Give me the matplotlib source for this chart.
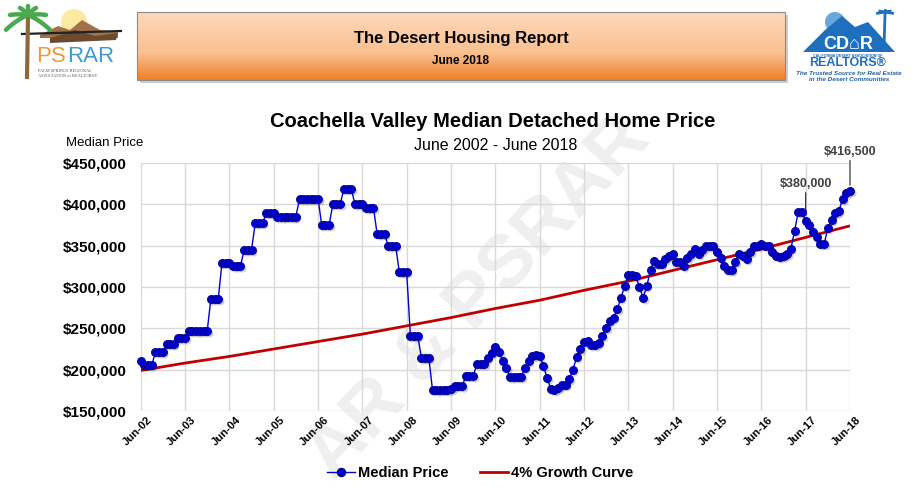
import numpy as np
import matplotlib
matplotlib.use("Agg")
import matplotlib.pyplot as plt
import matplotlib.transforms as mtransforms
from matplotlib.patches import Polygon, Circle, Rectangle
from matplotlib.lines import Line2D

plt.rcParams['font.family'] = ['Liberation Sans', 'DejaVu Sans']

# ---------------- data ----------------
tick_labels = ["Jun-02", "Jun-03", "Jun-04", "Jun-05", "Jun-06", "Jun-07", "Jun-08",
               "Jun-09", "Jun-10", "Jun-11", "Jun-12", "Jun-13", "Jun-14", "Jun-15",
               "Jun-16", "Jun-17", "Jun-18"]

# monthly median price (thousands of $), Jun-2002 .. Jun-2018
median_price_k = [
    210, 206, 206, 206, 221, 221, 221, 231, 231, 231, 238, 238,
    238, 246.5, 246.5, 246.5, 246.5, 246.5, 246.5, 286, 286, 286, 329, 329,
    329, 325, 325, 325, 345, 345, 345, 377, 377, 377, 390, 390,
    390, 385, 385, 385, 385, 385, 385, 407, 407, 407, 407, 407,
    407, 375, 375, 375, 400, 400, 400, 419, 419, 419, 400, 400,
    400, 396, 396, 396, 364, 364, 364, 350, 350, 350, 318, 318,
    318, 241, 241, 241, 214, 214, 214, 175, 175, 175, 176, 176,
    177, 180, 180, 180, 192, 192, 192, 207, 207, 207, 214, 220,
    227, 221, 211, 202, 191, 191, 191, 191, 202, 210, 217, 218,
    217, 205, 190, 177, 176, 178, 181, 182, 189, 200, 215, 225,
    234, 235, 230, 230, 232, 241, 251, 259, 263, 273, 287, 301,
    315, 315, 313, 300, 287, 301, 321, 332, 328, 328, 334, 337,
    340, 330, 330, 325, 335, 340, 346, 340, 345, 350, 350, 350,
    342, 335, 326, 320, 320, 330, 340, 337, 334, 342, 350, 350,
    352, 350, 349, 342, 338, 336, 338, 340, 346, 368, 391, 391,
    380, 375, 367, 360, 352, 352, 371, 381, 389, 392, 407, 414,
    416.5,
]

# 4% growth curve read at each June (thousands of $)
growth_k = [199, 208, 216, 225, 234, 243, 253, 263, 274, 284, 296, 307,
            320, 333, 346, 360, 374]

annot_labels = ["$380,000", "$416,500"]
annot_month_index = [180, 192]
annot_values = [380000, 416500]

yticks = [150000, 200000, 250000, 300000, 350000, 400000, 450000]

# ---------------- figure ----------------
W, H = 923, 491
fig = plt.figure(figsize=(W / 100, H / 100), dpi=100)
fig.patch.set_facecolor("white")

bg = fig.add_axes([0, 0, 1, 1], zorder=0)
bg.set_xlim(0, W)
bg.set_ylim(H, 0)
bg.axis("off")

# header box with orange gradient
x0, x1, y0, y1 = 137, 785, 12, 80
bg.add_patch(Rectangle((x0 + 3, y0 + 3), x1 - x0, y1 - y0, facecolor="#9a9a9a",
                       edgecolor="none", alpha=0.5, zorder=1))
top = np.array([0xfd, 0xd9, 0xbd]) / 255
mid = np.array([0xfa, 0xc0, 0x90]) / 255
bot = np.array([0xee, 0x7f, 0x2a]) / 255
cols = np.zeros((256, 1, 3))
for k in range(256):
    t = k / 255
    if t < 0.6:
        c = top + (mid - top) * (t / 0.6)
    else:
        c = mid + (bot - mid) * ((t - 0.6) / 0.4)
    cols[k, 0, :] = c
bg.imshow(cols, extent=(x0, x1, y1, y0), aspect="auto", zorder=2, interpolation="bilinear")
bg.add_patch(Rectangle((x0, y0), x1 - x0, y1 - y0, facecolor="none",
                       edgecolor="#8a8a8a", lw=0.8, zorder=3))
bg.text(461, 38, "The Desert Housing Report", ha="center", va="center",
        fontsize=12, fontweight="bold", color="black", zorder=4)
bg.text(461, 61, "June 2018", ha="center", va="center",
        fontsize=8.5, fontweight="bold", color="black", zorder=4)

# left logo (PSRAR)
bg.add_patch(Circle((74, 22), 13, facecolor="#fde9a0", edgecolor="none", zorder=1))
bg.add_patch(Polygon([[40, 35], [58, 26], [70, 30], [82, 20], [100, 30], [118, 32], [118, 38], [40, 38]],
                     closed=True, facecolor="#a0724a", edgecolor="none", zorder=2))
bg.add_patch(Polygon([[50, 38], [75, 30], [95, 36], [118, 33], [116, 40], [50, 43]],
                     closed=True, facecolor="#6b4a2e", edgecolor="none", zorder=2))
bg.plot([22, 121], [34, 31], color="#222222", lw=1.6, zorder=3)
bg.plot([28, 27], [16, 77], color="#8a6a3a", lw=3, zorder=3)
for dx, dy in [(-22, 10), (-18, -2), (-8, -9), (8, -9), (18, -2), (22, 10), (0, -11)]:
    xs = np.linspace(0, 1, 12)
    bg.plot(28 + dx * xs, 15 + dy * xs + 6 * xs * (xs - 0.2) * (1 if dy > 0 else 0.4),
            color="#4aa84f", lw=3.2, solid_capstyle="round", zorder=4)
bg.text(66, 56, "PS", ha="right", va="center", fontsize=16, color="#e89b3c", zorder=4)
bg.text(67, 56, "RAR", ha="left", va="center", fontsize=16, color="#3d9ad1", zorder=4)
bg.text(38, 71, "PALM SPRINGS REGIONAL", ha="left", va="center", fontsize=3.2, color="#555555",
        zorder=4, family=["Liberation Serif", "DejaVu Serif"])
bg.text(38, 75.5, "ASSOCIATION of REALTORS\u00ae", ha="left", va="center", fontsize=3.2,
        color="#555555", zorder=4, family=["Liberation Serif", "DejaVu Serif"])

# right logo (CDAR)
bg.add_patch(Circle((835, 22), 10, facecolor="#6aa7dc", edgecolor="none", zorder=1))
bg.add_patch(Polygon([[803, 52], [825, 30], [842, 16], [855, 27], [868, 22], [895, 52]],
                     closed=True, facecolor="#1f6fbf", edgecolor="none", zorder=2))
bg.plot([885, 884], [14, 48], color="#1f6fbf", lw=2, zorder=3)
for ang in [160, 130, 90, 50, 20]:
    a = np.deg2rad(ang)
    bg.plot([885, 885 + 8 * np.cos(a)], [12, 12 - 5 * np.sin(a) + 3], color="#1f6fbf", lw=2, zorder=3)
bg.text(848, 44, "CD\u2302R", ha="center", va="center", fontsize=13, fontweight="bold",
        color="white", zorder=4)
bg.text(848, 56, "CALIFORNIA DESERT ASSOCIATION OF", ha="center", va="center", fontsize=2.6,
        fontweight="bold", color="#1f5fa8", zorder=4)
bg.text(848, 63, "REALTORS\u00ae", ha="center", va="center", fontsize=9, fontweight="bold",
        color="#1f6fbf", zorder=4)
bg.text(849, 73, "The Trusted Source for Real Estate", ha="center", va="center", fontsize=4.6,
        fontweight="bold", style="italic", color="#1f5fa8", zorder=4)
bg.text(849, 79.5, "in the Desert Communities", ha="center", va="center", fontsize=4.6,
        fontweight="bold", style="italic", color="#1f5fa8", zorder=4)

# watermark (kept fully inside the picture)
bg.text(478, 298, "AR & PSRAR", ha="center", va="center", rotation=47, fontsize=54,
        fontweight="bold", color="#efefef", zorder=1)

# titles
bg.text(493, 121, "Coachella Valley Median Detached Home Price", ha="center", va="center",
        fontsize=14.5, fontweight="bold", color="black", zorder=4)
bg.text(496, 146, "June 2002 - June 2018", ha="center", va="center",
        fontsize=11.5, color="black", zorder=4)
bg.text(105, 143, "Median Price", ha="center", va="center", fontsize=9.5, color="black", zorder=4)

# ---------------- main plot ----------------
L, R, T, B = 140.7, 850.0, 163.0, 411.0
ax = fig.add_axes([L / W, (H - B) / H, (R - L) / W, (B - T) / H], zorder=2)
ax.patch.set_alpha(0)

x = np.arange(len(median_price_k))
y = np.array(median_price_k) * 1000.0
gx = np.arange(len(growth_k)) * 12
gy = np.array(growth_k) * 1000.0

ax.set_xlim(0, 192)
ax.set_ylim(150000, 450000)
ax.set_xticks(np.arange(len(tick_labels)) * 12)
ax.set_xticklabels(tick_labels)
ax.set_yticks(yticks)
ax.set_yticklabels(["${:,.0f}".format(v) for v in yticks])
ax.grid(True, color="#d9d9d9", lw=1.0)
ax.set_axisbelow(True)
for s in ax.spines.values():
    s.set_visible(False)
ax.tick_params(axis="both", length=0)
ax.tick_params(axis="y", pad=10, labelsize=11)
ax.tick_params(axis="x", pad=3, labelsize=8)
for lab in ax.get_yticklabels():
    lab.set_fontweight("bold")
offset = mtransforms.ScaledTranslation(6 / 100, 0, fig.dpi_scale_trans)
for lab in ax.get_xticklabels():
    lab.set_fontweight("bold")
    lab.set_rotation(45)
    lab.set_ha("right")
    lab.set_rotation_mode("anchor")
    lab.set_transform(lab.get_transform() + offset)

ax.plot(gx, gy, color="#c00000", lw=2.0, zorder=3, solid_capstyle="butt")

shadow = ax.transData + mtransforms.ScaledTranslation(1.5 / 100, -2 / 100, fig.dpi_scale_trans)
ax.plot(x, y, color="#000000", lw=0, marker="o", ms=5.8, mec="none", mfc="#000000",
        alpha=0.18, transform=shadow, zorder=3.5, clip_on=False)
ax.plot(x, y, color="#0000cc", lw=1.0, marker="o", ms=5.8, mfc="#0000d0", mec="#00008b",
        mew=0.6, zorder=4, clip_on=False)

for lab, i, v, dy in zip(annot_labels, annot_month_index, annot_values, [31, 33]):
    ax.annotate(lab, xy=(i, v), xytext=(0, dy * 0.72), textcoords="offset points",
                ha="center", va="bottom", fontsize=9, fontweight="bold", color="#404040",
                arrowprops=dict(arrowstyle="-", color="#222222", lw=0.8,
                                shrinkA=0, shrinkB=4), zorder=5)

handles = [Line2D([], [], color="#0000cc", lw=1.0, marker="o", ms=5.8, mfc="#0000d0", mec="#00008b"),
           Line2D([], [], color="#c00000", lw=2.0)]
fig.legend(handles, ["Median Price", "4% Growth Curve"], loc="center",
           bbox_to_anchor=(480 / W, (H - 473) / H), ncol=2, frameon=False,
           prop={"weight": "bold", "size": 10.5}, handlelength=1.9,
           handletextpad=0.2, columnspacing=2.2)

fig.savefig("out.png", dpi=100, facecolor="white")
